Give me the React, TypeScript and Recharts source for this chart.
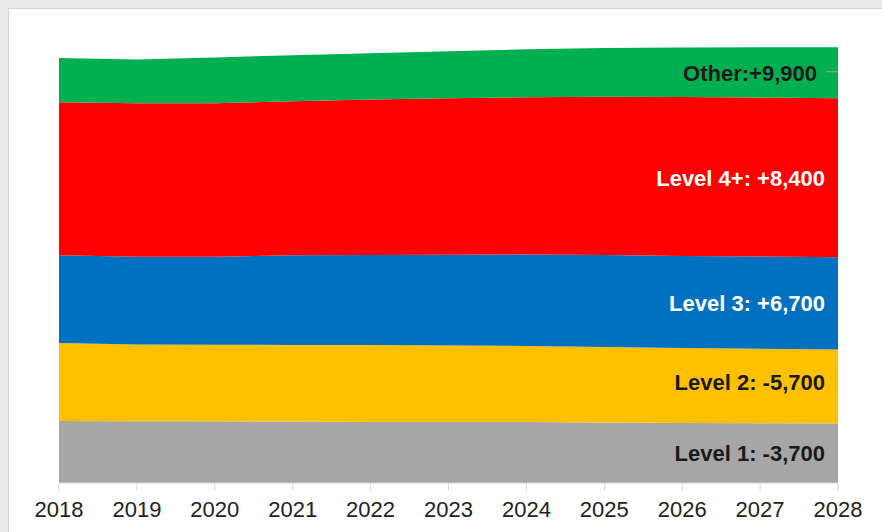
import React from 'react';
import { AreaChart, Area, XAxis, YAxis, ReferenceDot } from 'recharts';

const years = ['2018', '2019', '2020', '2021', '2022', '2023', '2024', '2025', '2026', '2027', '2028'];
// thousands of workers
const level1 = [90.0, 89.5, 89.5, 89.0, 88.5, 88.4, 88.3, 87.6, 87.0, 86.5, 86.3];
const level2 = [113.0, 111.4, 111.0, 111.2, 111.5, 111.0, 110.3, 109.6, 108.8, 108.1, 107.3];
const level3 = [127.0, 126.9, 127.5, 130.1, 130.6, 131.6, 132.7, 133.2, 133.2, 133.7, 133.7];
const level4 = [222.0, 222.6, 222.6, 223.1, 225.2, 226.8, 227.7, 229.4, 230.4, 230.6, 230.4];
const other = [64.0, 63.6, 66.2, 66.6, 67.0, 68.2, 69.7, 70.8, 71.8, 72.7, 73.9];

const seriesKeys = ['level1', 'level2', 'level3', 'level4', 'other'];
const seriesValues = [level1, level2, level3, level4, other];
const seriesLabels = ['Level 1: -3,700', 'Level 2: -5,700', 'Level 3: +6,700', 'Level 4+: +8,400', 'Other:+9,900'];
const colors = ['#a6a6a6', '#ffc000', '#0070c0', '#ff0000', '#00b050'];
const labelColors = ['#1a1a1a', '#1a1a1a', '#ffffff', '#ffffff', '#1a1a1a'];
const labelGap = [13, 13, 13, 13, 21];
const labelDy = [0, -4, 0, 0, 0];

const data = years.map((y, i) => {
  const row: any = { year: y };
  seriesKeys.forEach((k, s) => { row[k] = seriesValues[s][i]; });
  return row;
});

const last = years.length - 1;
const mids = seriesValues.map((vals, s) => {
  let base = 0;
  for (let j = 0; j < s; j++) base += seriesValues[j][last];
  return base + vals[last] / 2;
});

const FONT = '"Liberation Sans", Arial, sans-serif';

const makeLabel = (s: number) => (props: any) => {
  const vb = props.viewBox || {};
  const cx = (vb.x || 0) + (vb.width || 0) / 2;
  const cy = (vb.y || 0) + (vb.height || 0) / 2 + labelDy[s];
  return (
    <g>
      {s === 4 && <line x1={cx - 12} x2={cx} y1={cy - 1} y2={cy - 1} stroke="#a6a6a6" strokeWidth={1} />}
      <text
        x={cx - labelGap[s]}
        y={cy}
        dy="0.36em"
        textAnchor="end"
        fill={labelColors[s]}
        fontSize={22}
        fontWeight="bold"
        fontFamily={FONT}
      >
        {seriesLabels[s]}
      </text>
    </g>
  );
};

export default function App() {
  return (
    <div>
      <style>{'html,body{overflow:hidden;background:#ebebeb;}'}</style>
      <div
        style={{
          position: 'absolute',
          left: 8,
          top: 8,
          width: 900,
          height: 560,
          background: '#ffffff',
          border: '1px solid #d6d6d6',
        }}
      >
        <AreaChart
          width={870}
          height={520}
          data={data}
          margin={{ top: 38, right: 41, left: 50, bottom: 6 }}
        >
          <XAxis
            dataKey="year"
            interval={0}
            height={40}
            tickSize={8}
            tickMargin={10}
            axisLine={{ stroke: '#d9d9d9' }}
            tickLine={{ stroke: '#d9d9d9' }}
            tick={{ fill: '#222222', fontSize: 22, fontFamily: FONT }}
          />
          <YAxis hide domain={[0, 632]} type="number" />
          {seriesKeys.map((k, s) => (
            <Area
              key={k}
              dataKey={k}
              stackId="a"
              type="linear"
              fill={colors[s]}
              fillOpacity={1}
              stroke="none"
              isAnimationActive={false}
            />
          ))}
          {seriesKeys.map((k, s) => (
            <ReferenceDot
              key={'l' + k}
              x={years[last]}
              y={mids[s]}
              r={0}
              fill="none"
              stroke="none"
              label={makeLabel(s)}
            />
          ))}
        </AreaChart>
      </div>
    </div>
  );
}
